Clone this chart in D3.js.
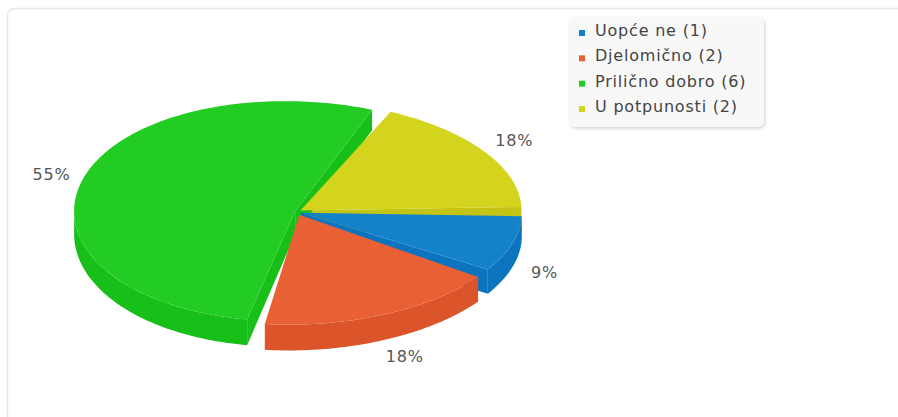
<!doctype html>
<html lang="hr">
<head>
<meta charset="utf-8">
<script src="https://cdn.jsdelivr.net/npm/d3@7"></script>
<style>
  body { margin: 0; background: #fff; }
  svg { display: block; font-family: "DejaVu Sans", sans-serif; }
</style>
</head>
<body>
<svg id="chart" width="898" height="417"></svg>
<script>
var categories = ["Uopće ne", "Djelomično", "Prilično dobro", "U potpunosti"];
var counts = [1, 2, 6, 2];
var topColors = ["#1382c9", "#e86034", "#22cc22", "#d4d41e"];
var sideColors = ["#0c74bf", "#dc5429", "#19bf19", "#c4c414"];

var cx = 298, cy = 212, rx = 221, ry = 110, depth = 23;
var persp = 0.12;               // front wall a bit taller than the sides
var lean = 10;                  // far and near rim pulled slightly to the left
var gap = 1.8 * Math.PI / 180, explode = 3;
var labelRx = 257, labelRy = 133;

var svg = d3.select("#chart");

// outer frame
svg.append("rect")
  .attr("x", 7.5).attr("y", 8.5).attr("width", 930).attr("height", 440).attr("rx", 7)
  .attr("fill", "#fff").attr("stroke", "#e8e8e8").attr("stroke-width", 1.5);

var total = d3.sum(counts);
var pct = d3.format(".0%");

// d3.pie measures from 12 o'clock, shift so the first slice starts at 3 o'clock
var pie = d3.pie().sort(null).startAngle(Math.PI / 2).endAngle(Math.PI / 2 + 2 * Math.PI);
var slices = pie(counts).map(function(d, i) {
  var mid = (d.startAngle + d.endAngle) / 2 - Math.PI / 2;
  return {
    i: i,
    value: d.value,
    a0: d.startAngle - Math.PI / 2 + gap,
    a1: d.endAngle - Math.PI / 2 - gap,
    mid: mid,
    ox: explode * Math.cos(mid),
    oy: explode * Math.sin(mid)
  };
});

function pt(s, t, h) {
  var sn = Math.sin(t);
  var f = 1 + persp * sn;
  return [cx + s.ox + rx * Math.cos(t) - lean * sn * sn, cy + s.oy + ry * sn + h * f];
}
function rim(s, from, to, h) {
  var n = Math.max(2, Math.ceil(Math.abs(to - from) / 0.02));
  return d3.range(n + 1).map(function(k) { return pt(s, from + (to - from) * k / n, h); });
}
function centre(s, h) { return [cx + s.ox, cy + s.oy + h]; }

var line = d3.line();

var walls = svg.append("g").attr("class", "walls");
var tops = svg.append("g").attr("class", "tops");

// back to front
var order = slices.slice().sort(function(a, b) { return Math.sin(a.mid) - Math.sin(b.mid); });

order.forEach(function(s) {
  var g = walls.append("g");
  var col = sideColors[s.i];
  if (Math.cos(s.a0) < 0) {
    g.append("path").attr("fill", col)
      .attr("d", line([centre(s, 0), pt(s, s.a0, 0), pt(s, s.a0, depth), centre(s, depth)]) + "Z");
  }
  if (Math.cos(s.a1) > 0) {
    g.append("path").attr("fill", col)
      .attr("d", line([centre(s, 0), pt(s, s.a1, 0), pt(s, s.a1, depth), centre(s, depth)]) + "Z");
  }
  var f0 = Math.max(s.a0, 0), f1 = Math.min(s.a1, Math.PI);
  if (f1 > f0) {
    var pts = rim(s, f0, f1, 0).concat(rim(s, f1, f0, depth));
    g.append("path").attr("fill", col).attr("d", line(pts) + "Z");
  }
});

order.forEach(function(s) {
  var pts = [centre(s, 0)].concat(rim(s, s.a0, s.a1, 0));
  tops.append("path").attr("fill", topColors[s.i]).attr("d", line(pts) + "Z");
});

// percentage labels
svg.append("g").selectAll("text").data(slices).join("text")
  .attr("x", function(s) { return cx + labelRx * Math.cos(s.mid); })
  .attr("y", function(s) { return cy + labelRy * Math.sin(s.mid) + (Math.sin(s.mid) > 0 ? depth : 0); })
  .attr("text-anchor", "middle").attr("dy", "0.36em")
  .attr("font-size", 16).attr("letter-spacing", 0.8).attr("fill", "#555")
  .text(function(s) { return pct(s.value / total); });

// legend
var defs = svg.append("defs");
defs.append("filter").attr("id", "shadow").attr("x", "-10%").attr("y", "-10%").attr("width", "130%").attr("height", "130%")
  .append("feDropShadow").attr("dx", 1).attr("dy", 1.5).attr("stdDeviation", 1.5)
  .attr("flood-color", "#000").attr("flood-opacity", 0.18);

var legend = svg.append("g").attr("transform", "translate(569,17)");
legend.append("rect").attr("width", 195).attr("height", 110).attr("rx", 6)
  .attr("fill", "#f8f8f8").attr("filter", "url(#shadow)");

var rowY = d3.scalePoint().domain(categories).range([19, 95]);
var items = legend.selectAll("g.item").data(categories).join("g").attr("class", "item")
  .attr("transform", function(d) { return "translate(0," + rowY(d) + ")"; });
items.append("rect").attr("x", 10).attr("y", -6).attr("width", 6).attr("height", 6)
  .attr("fill", function(d, i) { return topColors[i]; });
items.append("text").attr("x", 26).attr("y", 0)
  .attr("font-size", 16).attr("letter-spacing", 0.8).attr("fill", "#444")
  .text(function(d, i) { return d + " (" + counts[i] + ")"; });
</script>
</body>
</html>
